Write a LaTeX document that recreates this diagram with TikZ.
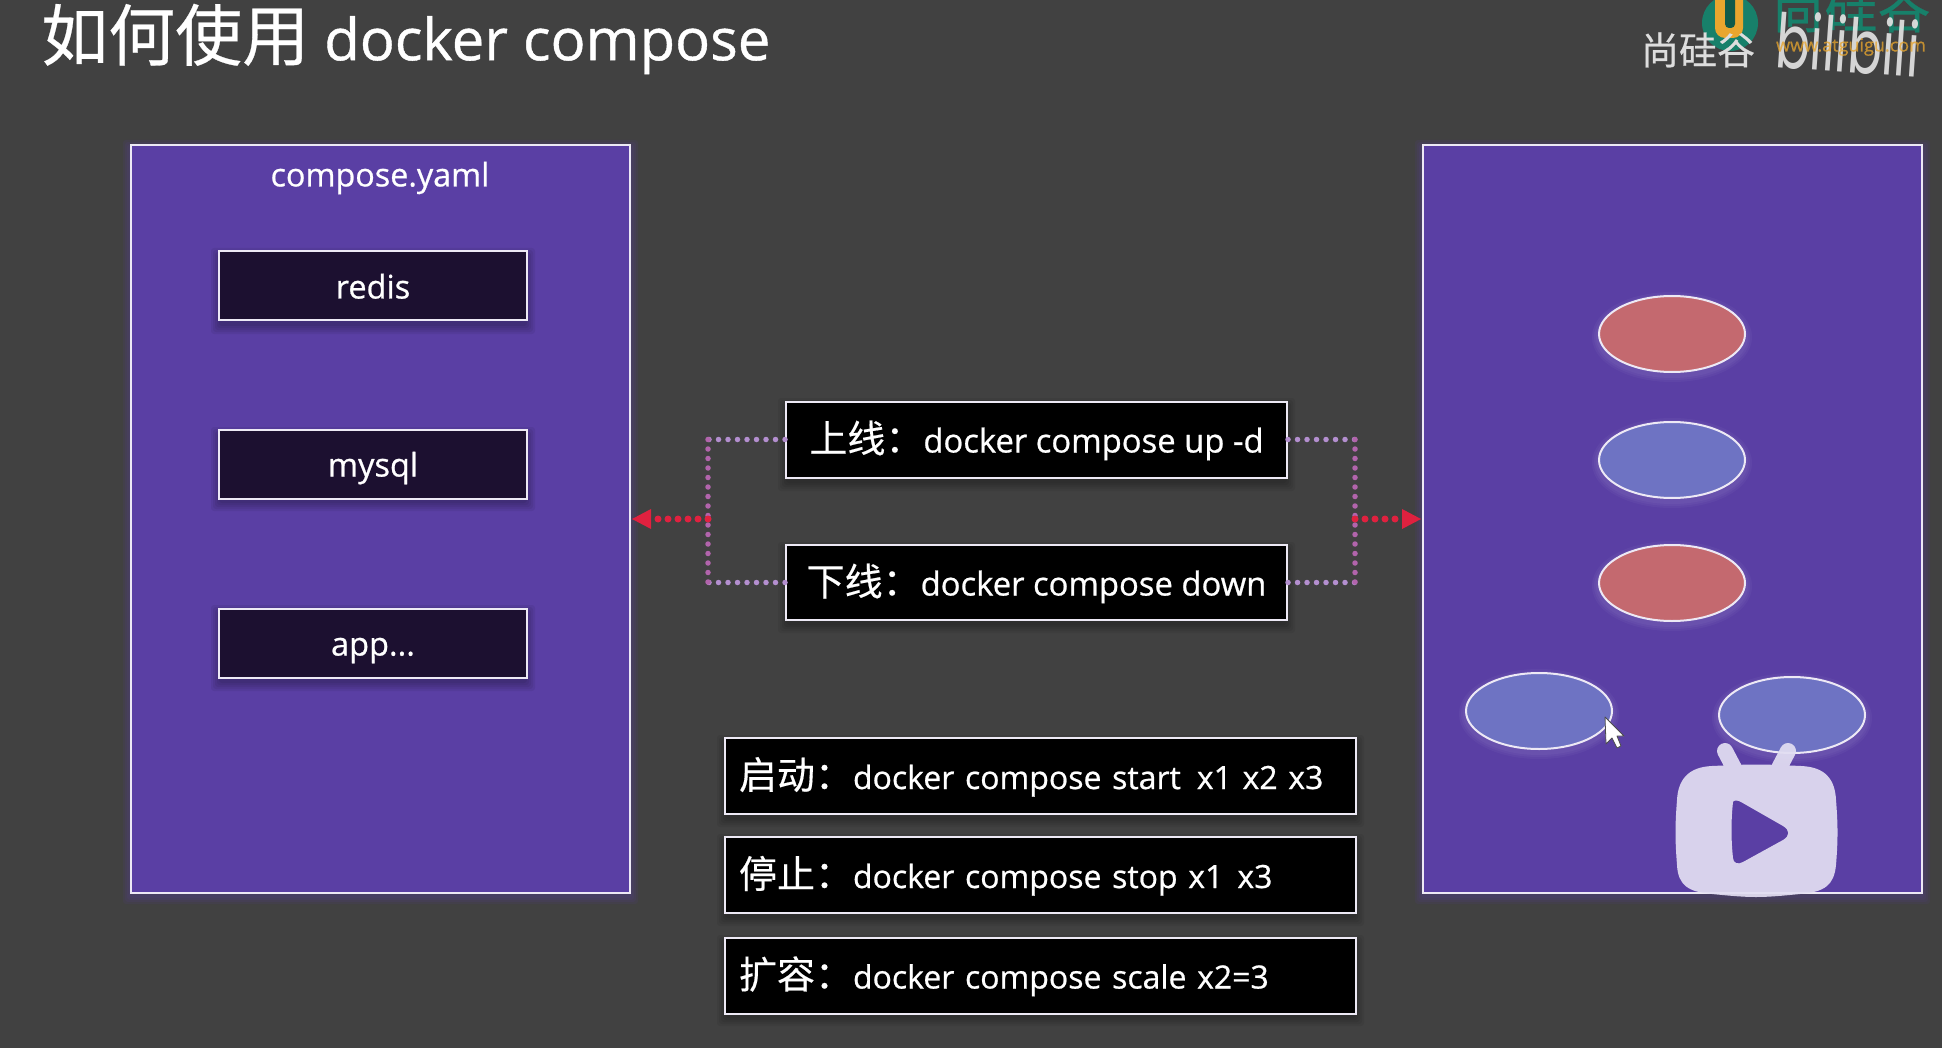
\documentclass[tikz,border=0pt]{standalone}
\usepackage{fontspec}
\setmainfont{Open Sans}[RawFeature={embolden=0.7}]
\newfontfamily\cjk{Noto Sans CJK SC}[RawFeature={embolden=0.4}]
\newfontfamily\popp{Poppins}
\usetikzlibrary{arrows.meta,calc}
\definecolor{bgc}{HTML}{414141}
\definecolor{panelc}{HTML}{5A3FA4}
\definecolor{edgec}{HTML}{EDE9F5}
\definecolor{darkbox}{HTML}{1C1030}
\definecolor{redc}{HTML}{C4696F}
\definecolor{bluec}{HTML}{6E73C3}
\definecolor{dotc}{HTML}{B48FD0}
\definecolor{dotp}{HTML}{B264AC}
\definecolor{arrc}{HTML}{E0213F}
\definecolor{gren}{HTML}{17806A}
\definecolor{orng}{HTML}{E9A62E}
\definecolor{tvc}{HTML}{E2DEF2}
\tikzset{
 panelbox/.style={draw=edgec,fill=panelc,line width=2pt,minimum width=499pt,minimum height=748pt,inner sep=0pt},
 svcbox/.style={draw=edgec,fill=darkbox,line width=2pt,minimum width=308pt,minimum height=69pt,inner sep=0pt,text=white,text height=28pt,text depth=3pt,font=\fontsize{32.5}{36}\selectfont},
 cmdbox/.style={draw=edgec,fill=black,line width=2pt,minimum height=76pt,inner sep=0pt,text=white,text height=31pt,text depth=5pt,font=\fontsize{32}{38}\selectfont},
 dotline/.style={dotc,line width=5.5pt,line cap=round,dash pattern=on 0pt off 9.5pt},
 dotpink/.style={dotp,line width=5.5pt,line cap=round,dash pattern=on 0pt off 9.5pt},
 redline/.style={arrc,line width=7pt,line cap=round,dash pattern=on 0pt off 10pt},
 redtip/.style={fill=arrc,draw=none},
}
\newcommand{\softshadow}[4]{%
  \foreach \gg in {0,2,4,6,8}
    \fill[black,opacity=.06,rounded corners=3pt] (#1-\gg,#3+5-\gg) rectangle (#2+\gg,#4+5+\gg);}
\newcommand{\softglow}[4]{%
  \foreach \gg in {2,4,6,8}
    \fill[panelc,opacity=.1,rounded corners=3pt] (#1-\gg,#3+3-\gg) rectangle (#2+\gg,#4+3+\gg);}
\begin{document}
\begin{tikzpicture}[x=1pt,y=-1pt]
\useasboundingbox (0,0) rectangle (1942,1048);
\fill[bgc] (0,0) rectangle (1942,1048);
\begin{scope}
\clip (0,0) rectangle (1942,1048);
% logo behind
\fill[gren] (1730,23) circle (28);
\fill[orng,rounded corners=10pt] (1715,-20) rectangle (1743,38);
\fill[gren!70!black,rounded corners=4pt] (1725,-20) rectangle (1735,28);
\node[text=gren,font=\cjk\fontsize{53}{53}\selectfont,inner sep=0pt] (brand) at (1851,8) {尚硅谷};
\node[text=white!82!bgc,font=\cjk\fontsize{38}{38}\selectfont,inner sep=0pt] (brand2) at (1698,50) {尚硅谷};
\node[text=white!85!bgc,opacity=.92,inner sep=0pt,rotate=-4] (bili) at (1848,44)
  {\popp\fontsize{52}{52}\selectfont\scalebox{.98}[1.45]{bilibili}};
\node[text=orng,opacity=.75,font=\fontsize{18}{18}\selectfont,inner sep=0pt] (www) at (1851,47) {www.atguigu.com};
\end{scope}
% title
\node[anchor=west,text=white,inner sep=0pt,font=\fontsize{58}{66}\selectfont] (title) at (41,39)
  {{\cjk\fontsize{67}{66}\selectfont 如何使用} docker compose};
% panels
\softglow{131}{630}{145}{893}
\softglow{1423}{1922}{145}{893}
\node[panelbox] (left) at (380.5,519) {};
\node[panelbox] (right) at (1672.5,519) {};
\node[text=white,inner sep=0pt,font=\fontsize{32.3}{36}\selectfont] (ltitle) at (380,178) {compose.yaml};
% service boxes
\softshadow{219}{527}{251}{321}
\softshadow{219}{527}{430}{498}
\softshadow{219}{527}{608}{678}
\node[svcbox] (redis) at (373,286) {redis};
\node[svcbox] (mysql) at (373,464) {mysql};
\node[svcbox] (app) at (373,643) {app...};
% command boxes
\softshadow{786}{1287}{401}{478}
\softshadow{786}{1287}{545}{620}
\softshadow{725}{1356}{738}{814}
\softshadow{725}{1356}{837}{913}
\softshadow{725}{1356}{938}{1013}
\node[cmdbox,minimum width=501pt,font=\fontsize{32.8}{38}\selectfont] (up) at (1036.5,439.5) {{\cjk\fontsize{38}{38}\selectfont 上线：}docker compose up -d};
\node[cmdbox,minimum width=501pt,minimum height=75pt,font=\fontsize{32.8}{38}\selectfont] (down) at (1036.5,582.5) {{\cjk\fontsize{38}{38}\selectfont 下线：}docker compose down};
\node[cmdbox,minimum width=631pt,text width=603pt,align=left] (start) at (1040.5,776) {{\cjk\fontsize{38}{38}\selectfont 启动：}docker compose start\hspace{16pt}x1 x2 x3};
\node[cmdbox,minimum width=631pt,text width=603pt,align=left] (stop) at (1040.5,875) {{\cjk\fontsize{38}{38}\selectfont 停止：}docker compose stop x1\hspace{14pt}x3};
\node[cmdbox,minimum width=631pt,text width=603pt,align=left] (scale) at (1040.5,975.5) {{\cjk\fontsize{38}{38}\selectfont 扩容：}docker compose scale x2=3};
% connectors
\coordinate (lj) at (708,519);
\coordinate (rj) at (1355,519);
\coordinate (lt) at (632,519);
\coordinate (rt) at (1421,519);
\draw[dotline] (up.west) -- (lj|-up.west);
\draw[dotline] (down.west) -- (lj|-down.west);
\draw[dotline] (up.east) -- (rj|-up.east);
\draw[dotline] (down.east) -- (rj|-down.east);
\draw[dotpink] (lj|-up.west) -- (lj|-down.west);
\draw[dotpink] (rj|-up.east) -- (rj|-down.east);
\draw[redline] (lj) -- ($(lt)+(16,0)$);
\draw[redline] (rj) -- ($(rt)+(-16,0)$);
\fill[redtip] (lt) -- ++(19,-10) -- ++(0,20) -- cycle;
\fill[redtip] (rt) -- ++(-19,-10) -- ++(0,20) -- cycle;
% ellipses
\foreach \cx/\cy/\cc in {1672/334/redc,1672/460/bluec,1672/583/redc,1539/711/bluec,1792/715/bluec}{
  \foreach \gg in {14,10,6}
    \draw[white,opacity=.035,line width=\gg pt] (\cx,\cy+3) ellipse [x radius=73,y radius=38];
  \draw[edgec,line width=2pt,fill=\cc] (\cx,\cy) ellipse [x radius=73,y radius=38];
}
% cursor
\draw[fill=white,draw=black!70,line width=.8pt,line join=round] (1605,717) -- (1606,744) -- (1612,738) -- (1617,748) -- (1621,746) -- (1617,736) -- (1624,736) -- cycle;
% play icon
\begin{scope}[transparency group,opacity=.93]
\draw[line width=16pt,line cap=round,color=tvc] (1725,751) -- (1735,770);
\draw[line width=16pt,line cap=round,color=tvc] (1788,751) -- (1778,770);
\fill[tvc,even odd rule]
  (1712,766) .. controls (1756,764) and (1757,764) .. (1801,766)
  .. controls (1826,767) and (1835,780) .. (1836,800)
  .. controls (1838,825) and (1838,840) .. (1836,865)
  .. controls (1834,885) and (1825,892) .. (1800,894)
  .. controls (1760,898) and (1752,898) .. (1712,894)
  .. controls (1688,892) and (1678,885) .. (1677,865)
  .. controls (1675,840) and (1675,825) .. (1677,800)
  .. controls (1678,780) and (1688,767) .. (1712,766) -- cycle
  (1733,802) .. controls (1733,800) and (1738,800) .. (1741,802)
  -- (1783,826) .. controls (1790,830) and (1790,836) .. (1783,840)
  -- (1743,862) .. controls (1738,865) and (1733,863) .. (1733,858)
  .. controls (1731,840) and (1731,820) .. (1733,802) -- cycle;
\end{scope}
\end{tikzpicture}
\end{document}
